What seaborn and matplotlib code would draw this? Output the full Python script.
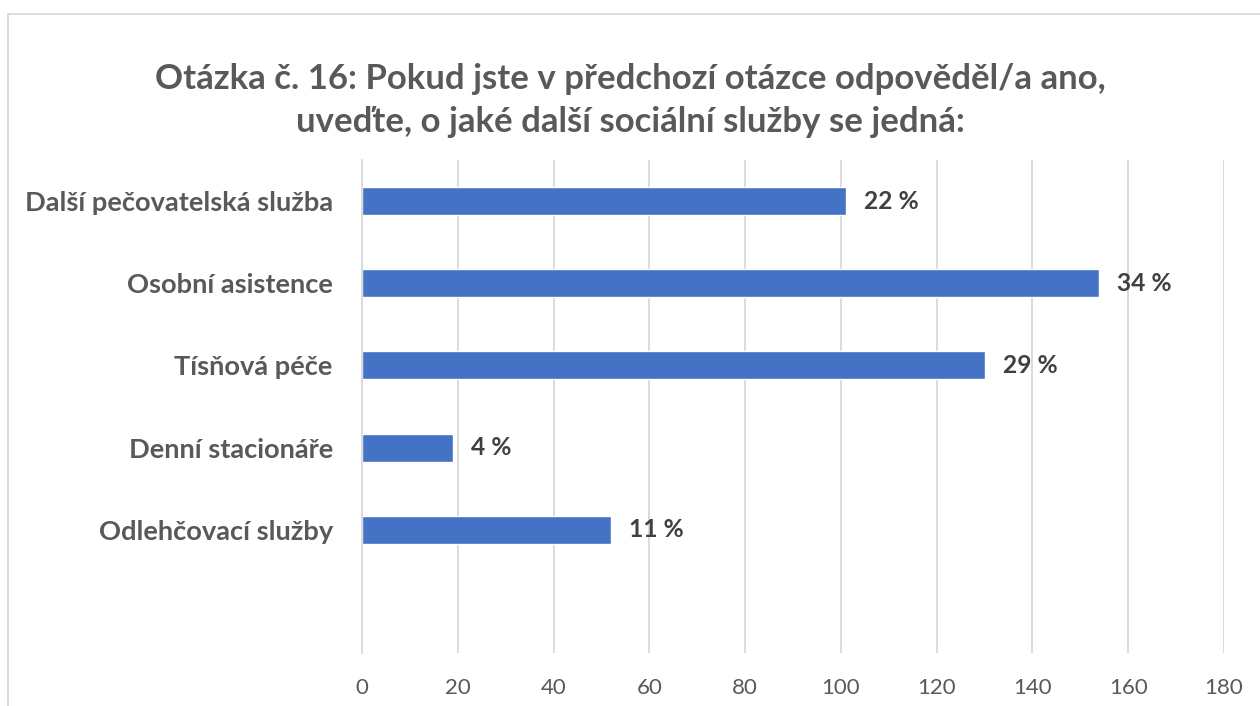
import matplotlib
matplotlib.use("Agg")
import matplotlib.pyplot as plt
import seaborn as sns
import pandas as pd
from matplotlib.patches import Rectangle

categories = ["Další pečovatelská služba", "Osobní asistence", "Tísňová péče",
              "Denní stacionáře", "Odlehčovací služby", ""]
values = [101, 154, 130, 19, 52, 0]
pct_labels = ["22 %", "34 %", "29 %", "4 %", "11 %", ""]
x_ticks = [0, 20, 40, 60, 80, 100, 120, 140, 160, 180]
title = "Otázka č. 16: Pokud jste v předchozí otázce odpověděl/a ano,\nuveďte, o jaké další sociální služby se jedná:"

sns.set_theme(style="white")
plt.rcParams['font.family'] = ['Lato', 'DejaVu Sans']

df = pd.DataFrame({"cat": categories, "val": values})

fig = plt.figure(figsize=(12.6, 7.06), dpi=100)
ax = fig.add_axes([362/1260, 1-653/706, (1224-362)/1260, (653-160)/706])

sns.barplot(data=df, y="cat", x="val", orient="h", color="#4472C4",
            saturation=1, width=0.34, ax=ax, order=categories)

ax.set_xlim(0, 180)
ax.set_ylim(5.5, -0.5)
ax.set_xticks(x_ticks)
ax.set_xlabel("")
ax.set_ylabel("")
ax.grid(axis="x", color="#d9d9d9", linewidth=1.3)
ax.set_axisbelow(True)
for s in ["top", "right", "bottom"]:
    ax.spines[s].set_visible(False)
ax.spines["left"].set_color("#d9d9d9")
ax.spines["left"].set_linewidth(1.3)

ax.tick_params(axis="x", length=0, pad=18, labelsize=16, labelcolor="#595959")
ax.tick_params(axis="y", which="major", length=0, pad=21, labelsize=19.6, labelcolor="#595959")
for lbl in ax.get_yticklabels():
    lbl.set_fontweight("bold")
ax.set_yticks([i - 0.5 for i in range(7)], minor=True)
ax.tick_params(axis="y", which="minor", length=7, color="#d9d9d9", width=1.3)

for i, (v, t) in enumerate(zip(values, pct_labels)):
    if t:
        ax.annotate(t, xy=(v, i), xytext=(18, 0), textcoords="offset pixels",
                    va="center", ha="left", fontsize=17.7, fontweight="bold", color="#404040")

fig.text(0.5, 1-100.5/706, title, ha="center", va="center", fontsize=25,
         fontweight="bold", color="#595959", linespacing=1.4)

fig.patches.append(Rectangle((8/1260, -0.05), 1.1, 1 - 14/706 + 0.05, transform=fig.transFigure,
                             fill=False, edgecolor="#d9d9d9", linewidth=1.3))

fig.savefig("out.png", dpi=100, facecolor="white")
